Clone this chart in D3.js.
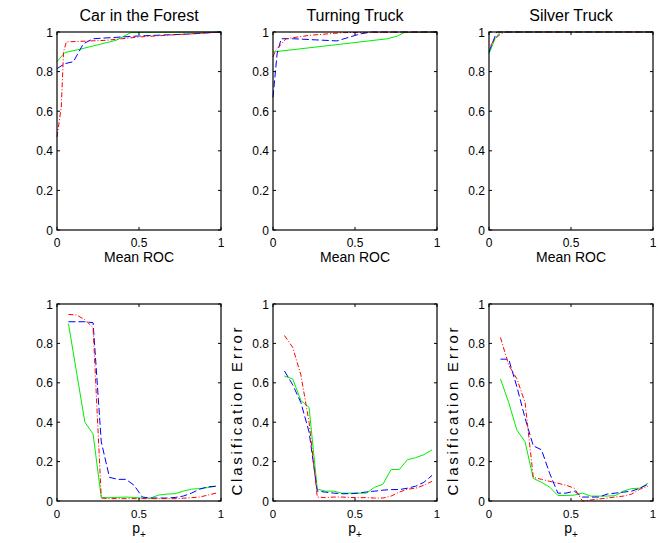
<!DOCTYPE html>
<html><head><meta charset="utf-8">
<script src="https://cdn.jsdelivr.net/npm/d3@7"></script>
<style>
html,body{margin:0;padding:0;background:#fff;}
svg{display:block;}
text{font-family:"Liberation Sans",Arial,Helvetica,sans-serif;fill:#000;}
</style></head>
<body>
<svg id="chart" width="658" height="543"></svg>
<script>
// ---------- data ----------
const titles = ["Car in the Forest", "Turning Truck", "Silver Truck"];
const rocXTicks = [0, 0.5, 1];
const rocXTickLabels = ["0", "0.5", "1"];
const yTicks = [0, 0.2, 0.4, 0.6, 0.8, 1];
const yTickLabels = ["0", "0.2", "0.4", "0.6", "0.8", "1"];
const errXTicks = [0, 0.5, 1];
const errXTickLabels = ["0", "0.5", "1"];
const rocXLabel = "Mean ROC";
const errYLabel = "Clasification Error";

// ROC curves: [false positive rate, true positive rate]
const rocCarGreen = [[0,0.85],[0.047,0.896],[0.14,0.913],[0.36,0.958],[0.45,0.997],[1,1]];
const rocCarBlue  = [[0,0.815],[0.047,0.84],[0.1,0.85],[0.16,0.94],[0.22,0.966],[0.4,0.975],[0.5,0.98],[0.81,0.99],[1,1]];
const rocCarRed   = [[0,0.47],[0.026,0.62],[0.04,0.9],[0.057,0.95],[0.3,0.958],[0.5,0.975],[1,1]];

const rocTurnGreen = [[0,0.899],[0.7,0.966],[0.76,0.98],[0.8,0.997],[1,1]];
const rocTurnBlue  = [[0,0.67],[0.025,0.89],[0.05,0.966],[0.12,0.966],[0.39,0.955],[0.53,0.99],[0.6,1],[1,1]];
const rocTurnRed   = [[0,0.874],[0.016,0.907],[0.08,0.966],[0.22,0.983],[0.43,0.997],[1,1]];

const rocSilverGreen = [[0,0.89],[0.037,0.966],[0.068,1],[1,1]];
const rocSilverBlue  = [[0,0.9],[0.047,1],[1,1]];
const rocSilverRed   = [[0.01,0.93],[0.03,0.96],[0.07,0.99],[0.1,1],[1,1]];

// Classification error vs p+
const pPlus = [0.07,0.12,0.17,0.22,0.27,0.32,0.37,0.42,0.47,0.52,0.57,0.62,0.67,0.72,0.77,0.82,0.87,0.92,0.97];

const errCarGreen = [0.90,0.65,0.40,0.34,0.017,0.017,0.018,0.02,0.018,0.015,0.015,0.03,0.035,0.037,0.05,0.06,0.063,0.068,0.075];
const errCarBlue  = [0.91,0.91,0.91,0.905,0.30,0.12,0.11,0.11,0.08,0.02,0.015,0.015,0.015,0.018,0.025,0.04,0.06,0.072,0.075];
const errCarRed   = [0.947,0.944,0.92,0.88,0.015,0.012,0.012,0.012,0.012,0.012,0.012,0.012,0.012,0.012,0.014,0.017,0.02,0.03,0.04];

const errTurnGreen = [0.634,0.62,0.51,0.475,0.06,0.05,0.05,0.04,0.04,0.04,0.04,0.07,0.085,0.16,0.16,0.21,0.22,0.235,0.26];
const errTurnBlue  = [0.66,0.59,0.50,0.35,0.05,0.045,0.04,0.037,0.037,0.04,0.046,0.05,0.055,0.058,0.058,0.065,0.075,0.095,0.13];
const errTurnRed   = [0.84,0.78,0.64,0.40,0.02,0.017,0.02,0.02,0.018,0.017,0.017,0.015,0.015,0.025,0.045,0.06,0.065,0.08,0.10];

const errSilverGreen = [0.62,0.50,0.36,0.30,0.115,0.095,0.07,0.028,0.028,0.03,0.04,0.025,0.025,0.025,0.027,0.05,0.063,0.065,0.09];
const errSilverBlue  = [0.72,0.72,0.58,0.42,0.28,0.26,0.14,0.04,0.04,0.05,0.02,0.02,0.02,0.035,0.04,0.045,0.05,0.065,0.085];
const errSilverRed   = [0.83,0.69,0.62,0.50,0.12,0.11,0.10,0.09,0.08,0.065,0.0,0.005,0.01,0.015,0.02,0.025,0.035,0.06,0.075];

// ---------- styles ----------
const styles = {
  green: {color: "#00ee00", dash: null},
  blue:  {color: "#0000ff", dash: "7,3"},
  red:   {color: "#ff0000", dash: "5,2,1,2"}
};

const panelLeft = [57, 273, 489];
const panelW = 164;
const rows = [{top: 32, bottom: 230}, {top: 304, bottom: 501}];

const svg = d3.select("#chart");

function makeAxes(g, x, y, xTicks, xLabels, yT, yLabels, fs) {
  const [x0, x1] = x.range();
  const [y0, y1] = y.range();
  const tl = 3;
  xTicks.forEach(t => {
    g.append("line").attr("x1", x(t)).attr("x2", x(t)).attr("y1", y0).attr("y2", y0 - tl).attr("stroke", "#000");
    g.append("line").attr("x1", x(t)).attr("x2", x(t)).attr("y1", y1).attr("y2", y1 + tl).attr("stroke", "#000");
  });
  yT.forEach(t => {
    g.append("line").attr("y1", y(t)).attr("y2", y(t)).attr("x1", x0).attr("x2", x0 + tl).attr("stroke", "#000");
    g.append("line").attr("y1", y(t)).attr("y2", y(t)).attr("x1", x1).attr("x2", x1 - tl).attr("stroke", "#000");
  });
  xTicks.forEach((t, i) => {
    g.append("text").attr("x", x(t)).attr("y", y0 + 17).attr("text-anchor", "middle")
      .style("font-size", fs + "px").text(xLabels[i]);
  });
  yT.forEach((t, i) => {
    g.append("text").attr("x", x0 - 4).attr("y", y(t) + 4.5).attr("text-anchor", "end")
      .style("font-size", "12px").text(yLabels[i]);
  });
}

function drawBox(g, x, y) {
  const [x0, x1] = x.range();
  const [y0, y1] = y.range();
  g.append("rect").attr("x", x0).attr("y", y1).attr("width", x1 - x0).attr("height", y0 - y1)
    .attr("fill", "none").attr("stroke", "#000").attr("stroke-width", 1.2);
}

function drawSeries(g, pts, x, y, st) {
  const line = d3.line().x(d => x(d[0])).y(d => y(d[1]));
  g.append("path").datum(pts).attr("d", line)
    .attr("fill", "none").attr("stroke", st.color).attr("stroke-width", 1)
    .attr("stroke-dasharray", st.dash);
}

const rocSets = [
  [rocCarGreen, rocCarBlue, rocCarRed],
  [rocTurnGreen, rocTurnBlue, rocTurnRed],
  [rocSilverGreen, rocSilverBlue, rocSilverRed]
];
const errSets = [
  [errCarGreen, errCarBlue, errCarRed],
  [errTurnGreen, errTurnBlue, errTurnRed],
  [errSilverGreen, errSilverBlue, errSilverRed]
];

// ---------- top row: ROC ----------
for (let i = 0; i < 3; i++) {
  const g = svg.append("g");
  const x = d3.scaleLinear().domain([0, 1]).range([panelLeft[i], panelLeft[i] + panelW]);
  const y = d3.scaleLinear().domain([0, 1]).range([rows[0].bottom, rows[0].top]);
  const [gr, bl, rd] = rocSets[i];
  drawSeries(g, gr, x, y, styles.green);
  drawSeries(g, bl, x, y, styles.blue);
  drawSeries(g, rd, x, y, styles.red);
  drawBox(g, x, y);
  makeAxes(g, x, y, rocXTicks, rocXTickLabels, yTicks, yTickLabels, 12);
  g.append("text").attr("x", (x.range()[0] + x.range()[1]) / 2).attr("y", 21)
    .attr("text-anchor", "middle").style("font-size", "16px").text(titles[i]);
  g.append("text").attr("x", (x.range()[0] + x.range()[1]) / 2).attr("y", 262)
    .attr("text-anchor", "middle").style("font-size", "14px").text(rocXLabel);
}

// ---------- bottom row: classification error ----------
for (let i = 0; i < 3; i++) {
  const g = svg.append("g");
  const x = d3.scaleLinear().domain([0, 1]).range([panelLeft[i], panelLeft[i] + panelW]);
  const y = d3.scaleLinear().domain([0, 1]).range([rows[1].bottom, rows[1].top]);
  const [gr, bl, rd] = errSets[i];
  drawSeries(g, pPlus.map((p, k) => [p, gr[k]]), x, y, styles.green);
  drawSeries(g, pPlus.map((p, k) => [p, bl[k]]), x, y, styles.blue);
  drawSeries(g, pPlus.map((p, k) => [p, rd[k]]), x, y, styles.red);
  drawBox(g, x, y);
  makeAxes(g, x, y, errXTicks, errXTickLabels, yTicks, yTickLabels, 11.5);
  const cx = (x.range()[0] + x.range()[1]) / 2;
  const t = g.append("text").attr("x", cx).attr("y", 533).attr("text-anchor", "middle").style("font-size", "14px");
  t.append("tspan").text("p");
  t.append("tspan").attr("dy", 5).style("font-size", "10px").text("+");
  if (i > 0) {
    const lx = panelLeft[i] - 31;
    const ly = (rows[1].top + rows[1].bottom) / 2 + 9;
    g.append("text").attr("transform", `translate(${lx},${ly}) rotate(-90)`)
      .attr("text-anchor", "middle").style("font-size", "15px")
      .attr("textLength", 168).attr("lengthAdjust", "spacing")
      .text(errYLabel);
  }
}
</script>
</body></html>
